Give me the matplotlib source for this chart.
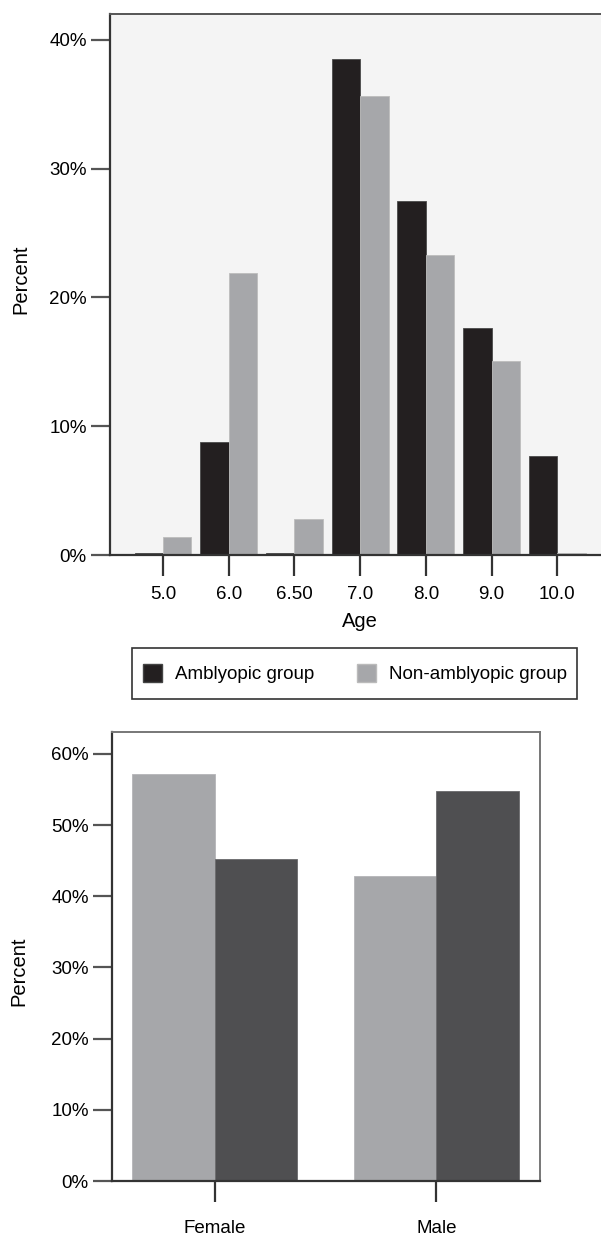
import matplotlib
matplotlib.use('Agg')
import matplotlib.pyplot as plt
from matplotlib.patches import Patch, Rectangle
from matplotlib.ticker import FuncFormatter

plt.rcParams['font.family'] = ['Liberation Sans', 'DejaVu Sans']

# age distribution (percent)
ages = ['5.0', '6.0', '6.50', '7.0', '8.0', '9.0', '10.0']
amblyopic = [0.15, 8.8, 0.15, 38.5, 27.5, 17.6, 7.7]
non_amblyopic = [1.4, 21.9, 2.8, 35.6, 23.3, 15.1, 0.15]

# gender distribution (percent)
genders = ['Female', 'Male']
gender_light = [57.2, 42.9]
gender_dark = [45.2, 54.8]

black = '#231f20'
grey = '#a6a7aa'
dark = '#4f4f51'
pct = FuncFormatter(lambda v, p: f'{v:.0f}%')

W, H = 601, 1240
fig = plt.figure(figsize=(W / 100, H / 100), dpi=100)

# ---- top chart: age ----
ax1 = fig.add_axes([0.1837, 0.5524, 0.831, 0.4363])
ax1.set_facecolor('#f4f4f4')
w = 0.433
x = list(range(len(ages)))
ax1.bar([i - w / 2 for i in x], amblyopic, width=w, color=black, edgecolor='#4a4a4a', linewidth=0.6)
ax1.bar([i + w / 2 for i in x], non_amblyopic, width=w, color=grey, edgecolor='#bdbdbd', linewidth=0.6)
ax1.set_xlim(-0.8, 6.8)
ax1.set_ylim(0, 42)
ax1.set_xticks(x)
ax1.set_xticklabels(ages)
ax1.set_yticks([0, 10, 20, 30, 40])
ax1.yaxis.set_major_formatter(pct)
ax1.tick_params(axis='x', length=15, width=1.6, color='#333333', pad=7, labelsize=13.5)
ax1.tick_params(axis='y', length=14, width=1.6, color='#555555', pad=3, labelsize=13.5)
ax1.set_xlabel('Age', fontsize=14.5, labelpad=7)
ax1.set_ylabel('Percent', fontsize=14.5)
ax1.yaxis.set_label_coords(-0.16, 0.51)
for s in ['left', 'bottom']:
    ax1.spines[s].set_color('#333333')
    ax1.spines[s].set_linewidth(1.6)
ax1.spines['top'].set_color('#555555')
ax1.spines['top'].set_linewidth(1.4)
ax1.spines['right'].set_visible(False)

# legend box + entries
box = Rectangle((131.7 / W, (H - 699) / H), 445 / W, 51 / H, transform=fig.transFigure,
                facecolor='white', edgecolor='#333333', linewidth=1.2)
fig.patches.append(box)
handles = [Patch(facecolor=black, edgecolor='#444444', label='Amblyopic group'),
           Patch(facecolor=grey, edgecolor='#bbbbbb', label='Non-amblyopic group')]
leg = fig.legend(handles=handles, loc='center left', ncol=2,
                 bbox_to_anchor=(142.7 / W, (H - 673.5) / H),
                 fontsize=13.5, frameon=False,
                 handlelength=1.01, handleheight=1.07, handletextpad=0.72,
                 borderpad=0.0, borderaxespad=0.0, columnspacing=2.25)

# ---- bottom chart: gender ----
ax2 = fig.add_axes([0.1869, 0.04758, 0.7112, 0.3623])
w2 = 0.372
x2 = list(range(len(genders)))
ax2.bar([i - w2 / 2 for i in x2], gender_light, width=w2, color=grey, edgecolor='#b5b5b8', linewidth=0.6)
ax2.bar([i + w2 / 2 for i in x2], gender_dark, width=w2, color=dark, edgecolor='#6a6a6c', linewidth=0.6)
ax2.set_xlim(-0.462, 1.467)
ax2.set_ylim(0, 63.1)
ax2.set_xticks(x2)
ax2.set_xticklabels(genders)
ax2.set_yticks([0, 10, 20, 30, 40, 50, 60])
ax2.yaxis.set_major_formatter(pct)
ax2.tick_params(axis='x', length=15, width=1.6, color='#333333', pad=13, labelsize=13.5)
ax2.tick_params(axis='y', length=14, width=1.6, color='#555555', pad=3, labelsize=13.5)
ax2.set_ylabel('Percent', fontsize=14.5)
ax2.yaxis.set_label_coords(-0.197, 0.466)
for s in ['left', 'bottom']:
    ax2.spines[s].set_color('#333333')
    ax2.spines[s].set_linewidth(1.6)
for s in ['top', 'right']:
    ax2.spines[s].set_color('#777777')
    ax2.spines[s].set_linewidth(1.4)

fig.savefig('out.png', dpi=100)
